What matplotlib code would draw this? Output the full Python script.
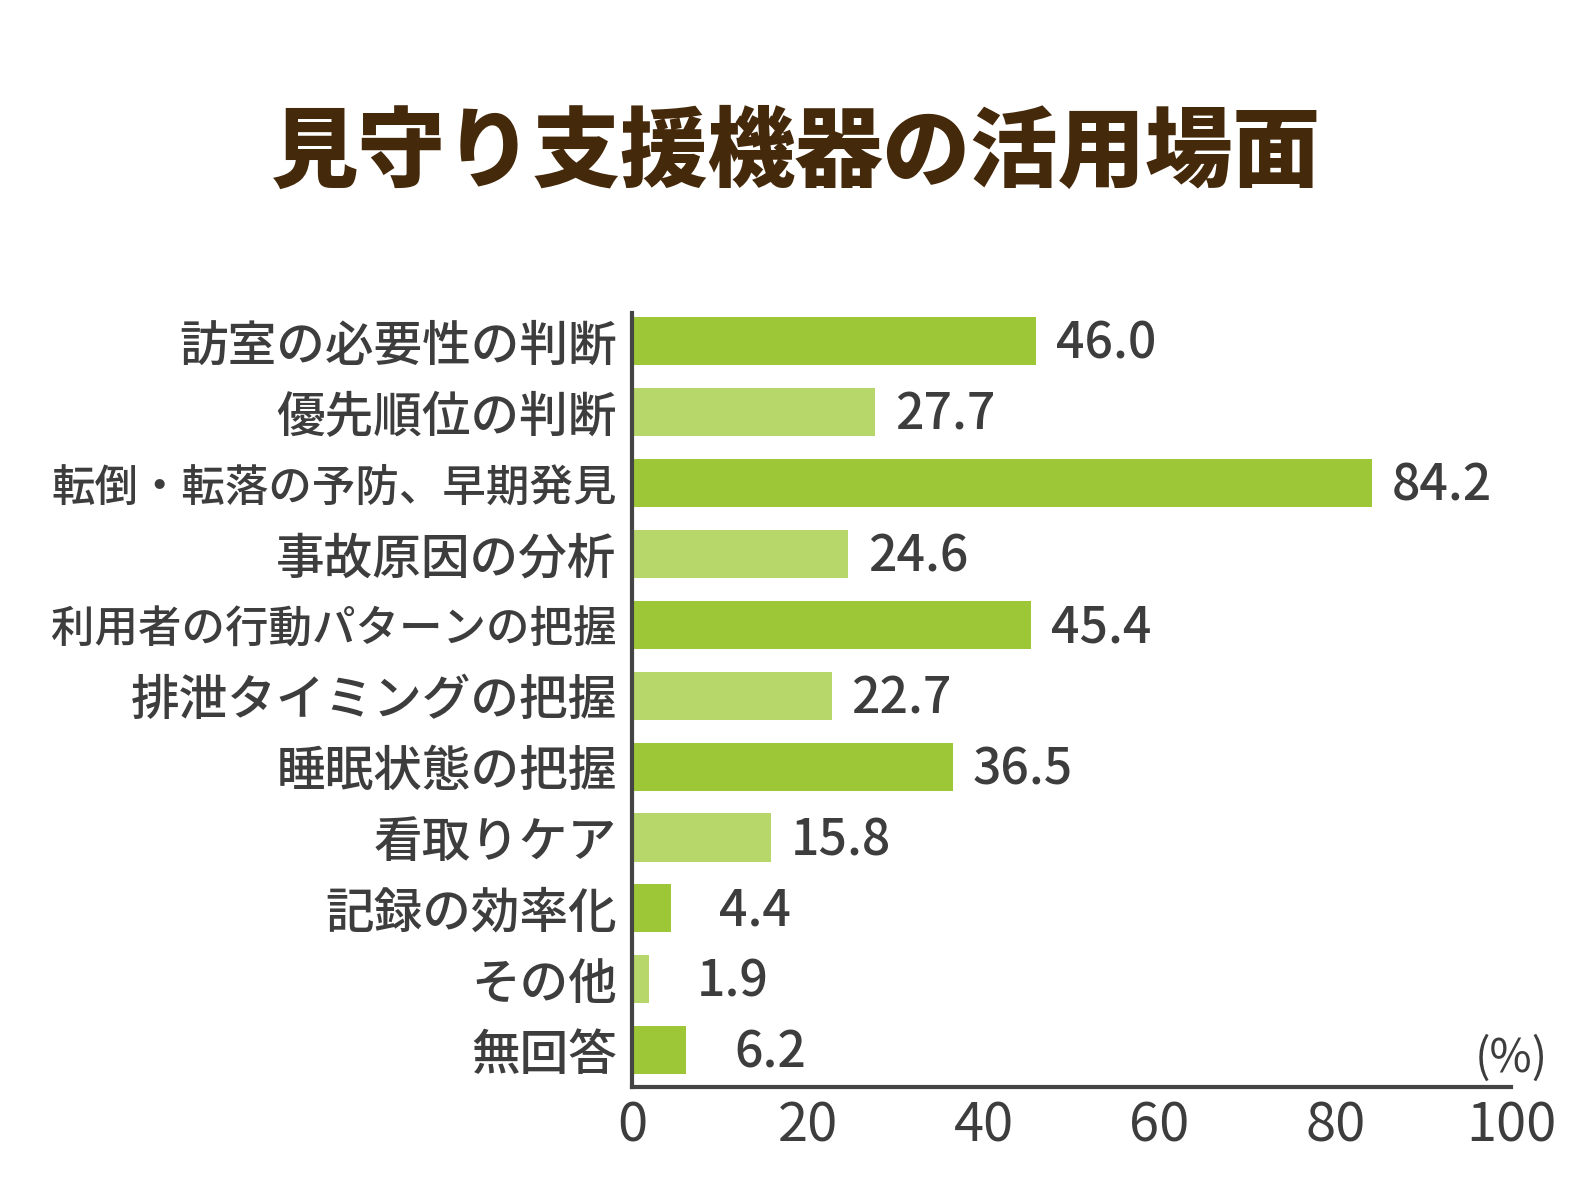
import matplotlib
matplotlib.use("Agg")
import matplotlib.pyplot as plt

plt.rcParams['font.family'] = ['Noto Sans CJK JP', 'DejaVu Sans']

categories = [
    '訪室の必要性の判断',
    '優先順位の判断',
    '転倒・転落の予防、早期発見',
    '事故原因の分析',
    '利用者の行動パターンの把握',
    '排泄タイミングの把握',
    '睡眠状態の把握',
    '看取りケア',
    '記録の効率化',
    'その他',
    '無回答',
]
values = [46.0, 27.7, 84.2, 24.6, 45.4, 22.7, 36.5, 15.8, 4.4, 1.9, 6.2]
xticks = [0, 20, 40, 60, 80, 100]

dark_green = '#9ec737'
light_green = '#b8d76b'
text_col = '#3d3d3d'
title_col = '#45290b'

W, H = 1592, 1194
fig = plt.figure(figsize=(W / 100, H / 100), dpi=100)
ax = fig.add_axes([632 / W, 1 - 1087 / H, (1511 - 632) / W, (1087 - 313) / H])

colors = [dark_green if i % 2 == 0 else light_green for i in range(len(values))]
ypos = list(range(len(values)))
ax.barh(ypos, values, height=0.68, color=colors, zorder=2)

for y, v in zip(ypos, values):
    ax.text(v + 13.65, y + 0.05, f'{v:.1f}', ha='right', va='center',
            fontsize=36, fontweight='medium', color=text_col)

ax.set_xlim(0, 100)
ax.set_ylim(10.52, -0.40)
ax.set_yticks(ypos)
ax.set_yticklabels(categories, color=text_col)
# long labels are shrunk so they fit in the left margin
for lab, name in zip(ax.get_yticklabels(), categories):
    size = 35 if len(name) <= 11 else min(35, 565 / (len(name) * 1.389))
    lab.set_fontsize(size)
    lab.set_fontweight('medium')
ax.set_xticks(xticks)
ax.set_xticklabels([str(t) for t in xticks], fontsize=39, color=text_col)
ax.tick_params(axis='both', length=0)
ax.tick_params(axis='y', pad=11)
ax.tick_params(axis='x', pad=8)

for s in ['top', 'right']:
    ax.spines[s].set_visible(False)
for s in ['left', 'bottom']:
    ax.spines[s].set_color('#444444')
    ax.spines[s].set_linewidth(3)

ax.text(100, 10.12, '(%)', ha='center', va='center', fontsize=33, color=text_col)

fig.text(0.5, 1 - 154 / H, '見守り支援機器の活用場面', ha='center', va='center',
         fontsize=63, fontweight='heavy', color=title_col)

fig.savefig('out.png', dpi=100, facecolor='white')
